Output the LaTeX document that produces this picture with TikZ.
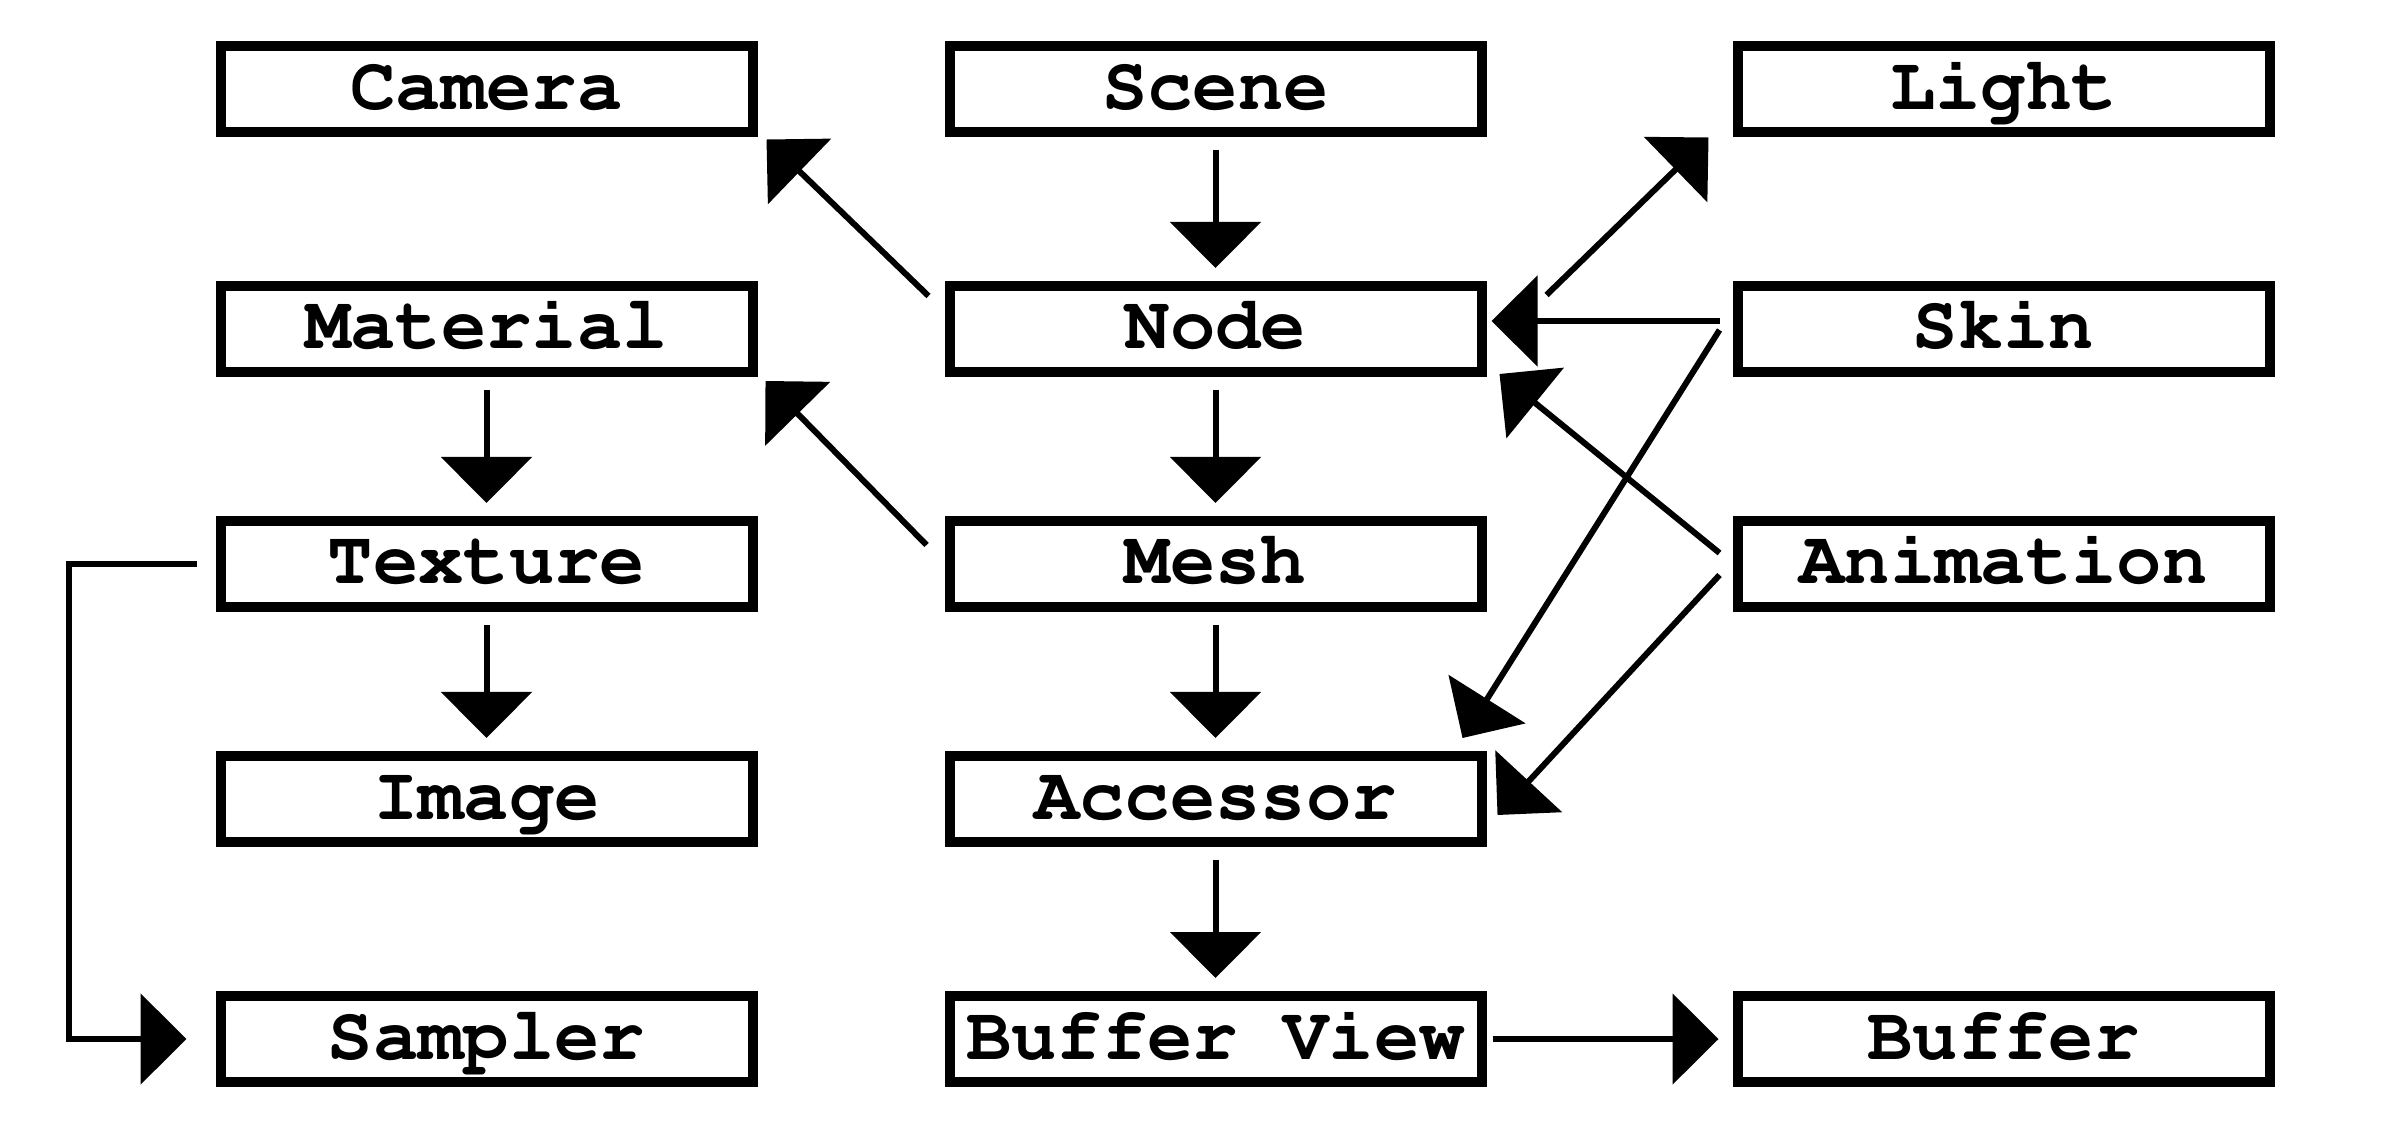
\documentclass[tikz,border=0pt]{standalone}
\usepackage[T1]{fontenc}
\usepackage{courier}
\usepackage{tikz}
\usetikzlibrary{arrows.meta, positioning, calc}

\begin{document}
\begin{tikzpicture}[
      box/.style={draw, line width=0.1cm, minimum width=5.32cm, minimum height=0.86cm,
        inner sep=0pt, text height=0.43cm, text depth=0.03cm,
        font=\ttfamily\bfseries\fontsize{21.5}{26}\selectfont},
      link/.style={line width=0.06cm, -{Triangle[length=0.46cm, width=0.9cm]}},
      down/.style={link, shorten <=0.13cm, shorten >=0.13cm}
    ]
      \useasboundingbox (0,0) rectangle (24,11.46);

      % middle column
      \node[box] (scene) at (12.155,10.565) {Scene};
      \node[box, below=1.435cm of scene] (node) {Node};
      \node[box, below=1.39cm of node] (mesh) {Mesh};
      \node[box, below=1.39cm of mesh] (accessor) {Accessor};
      \node[box, below=1.44cm of accessor] (bufferview) {Buffer View};

      % left column
      \node[box, left=1.87cm of scene] (camera) {Camera};
      \node[box, left=1.87cm of node] (material) {Material};
      \node[box, left=1.87cm of mesh] (texture) {Texture};
      \node[box, left=1.87cm of accessor] (image) {Image};
      \node[box, left=1.87cm of bufferview] (sampler) {Sampler};

      % right column
      \node[box, right=2.46cm of scene] (light) {Light};
      \node[box, right=2.46cm of node] (skin) {Skin};
      \node[box, right=2.46cm of mesh] (animation) {Animation};
      \node[box, right=2.46cm of bufferview] (buffer) {Buffer};

      \coordinate (rail) at (0.69,0);

      \draw[down] (scene) -- (node);
      \draw[down] (node) -- (mesh);
      \draw[down] (mesh) -- (accessor);
      \draw[down] (accessor) -- (bufferview);
      \draw[down] (material) -- (texture);
      \draw[down] (texture) -- (image);
      \draw[link, shorten <=0.06cm, shorten >=0.14cm] (bufferview) -- (buffer);
      \draw[link, shorten <=0.19cm, shorten >=0.29cm]
        (texture.west) -- (rail |- texture.west) |- (sampler.west);

      \draw[link] ($(node.north west)+(-0.16,-0.15)$) -- ($(camera.south east)+(0.09,-0.02)$);
      \draw[link] ($(mesh.north west)+(-0.18,-0.29)$) -- ($(material.south east)+(0.08,-0.04)$);
      \draw[link] ($(node.north east)+(0.6,-0.14)$) -- ($(light.south west)+(-0.24,0)$);
      \draw[link] ($(skin.west)+(-0.13,0.08)$) -- ($(node.east)+(0.05,0.08)$);
      \draw[link] ($(skin.west)+(-0.13,-0.01)$) -- ($(accessor.north east)+(-0.24,0.13)$);
      \draw[link] ($(animation.west)+(-0.13,0.11)$) -- ($(node.south east)+(0.13,0.03)$);
      \draw[link] ($(animation.west)+(-0.13,-0.11)$) -- ($(accessor.east)+(0.11,-0.16)$);
    \end{tikzpicture}
\end{document}
